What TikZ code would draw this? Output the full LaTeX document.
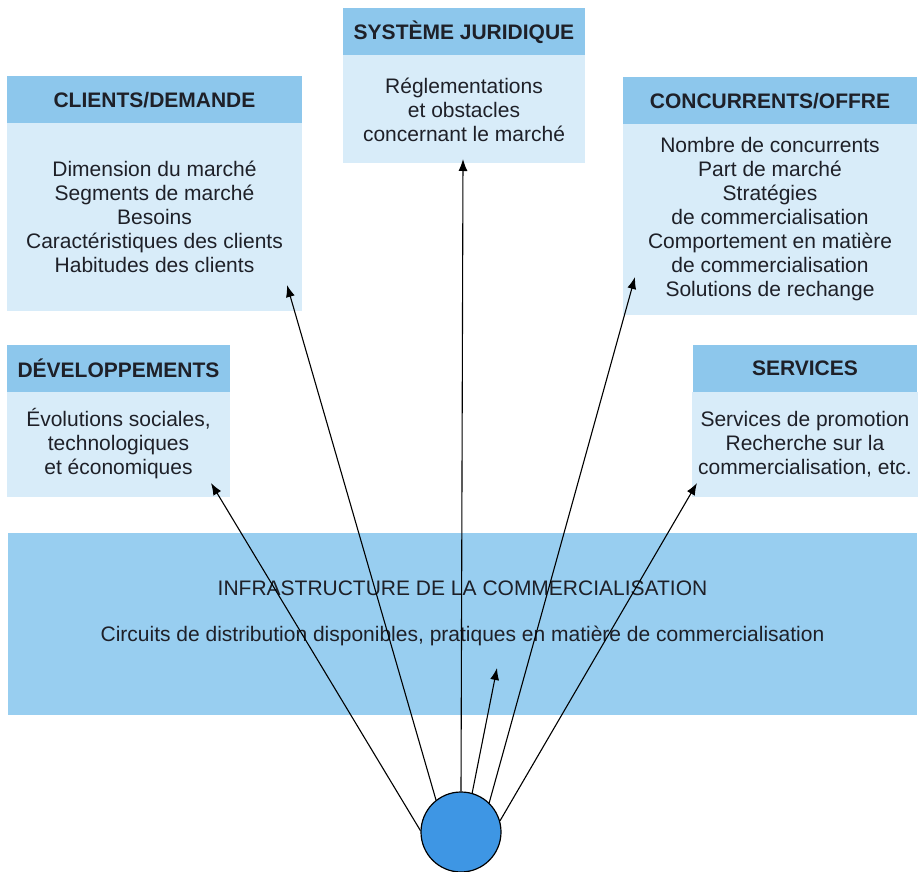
\documentclass[tikz,border=0pt]{standalone}
\usepackage{fontspec}
\setmainfont{Liberation Sans}
\usetikzlibrary{positioning,arrows.meta}

\definecolor{headBlue}{RGB}{141,199,236}
\definecolor{bodyBlue}{RGB}{216,236,249}
\definecolor{infraBlue}{RGB}{152,206,240}
\definecolor{discBlue}{RGB}{62,150,228}
\definecolor{inkDark}{RGB}{30,32,40}

\begin{document}
\begin{tikzpicture}[->, >={Latex[length=6pt,width=4.5pt]}, x=0.5pt, y=-0.5pt,
    headbox/.style={fill=headBlue, text=inkDark, font=\fontsize{10.5}{12}\selectfont\bfseries, minimum height=23.5pt, outer sep=0pt},
    bodybox/.style={fill=bodyBlue, text=inkDark, font=\fontsize{10.5}{12}\selectfont, align=center, outer sep=0pt}]
                \useasboundingbox (0,0) rectangle (922,872);
                \node[headbox, minimum width=121pt] (juridique) at (464,32) {SYSTÈME JURIDIQUE};
                \node[bodybox, minimum width=121pt, minimum height=54pt] (juridiqueTxt) [below=0pt of juridique] {Réglementations\\et obstacles\\concernant le marché};
                \node[headbox, minimum width=147.5pt] (clients) at (154.5,100) {CLIENTS/DEMANDE};
                \node[bodybox, minimum width=147.5pt, minimum height=93.5pt] (clientsTxt) [below=0pt of clients] {Dimension du marché\\Segments de marché\\Besoins\\Caractéristiques des clients\\Habitudes des clients};
                \node[headbox, minimum width=147pt] (concurrents) at (770,101) {CONCURRENTS/OFFRE};
                \node[bodybox, minimum width=147pt, minimum height=95pt] (concurrentsTxt) [below=0pt of concurrents] {Nombre de concurrents\\Part de marché\\Stratégies\\de commercialisation\\Comportement en matière\\de commercialisation\\Solutions de rechange};
                \node[headbox, minimum width=111.5pt] (dev) at (118.5,368) {DÉVELOPPEMENTS};
                \node[bodybox, minimum width=111.5pt, minimum height=52.5pt] (devTxt) [below=0pt of dev] {Évolutions sociales,\\technologiques\\et économiques};
                \node[headbox, minimum width=112pt] (services) at (805,368.5) {SERVICES};
                \node[bodybox, minimum width=112pt, minimum height=52.5pt] (servicesTxt) [below=0pt of services] {Services de promotion\\Recherche sur la\\commercialisation, etc.};
                \node[fill=infraBlue, minimum width=454.5pt, minimum height=91pt, outer sep=0pt] (infra) at (462.5,624) {};
                \node[text=inkDark, font=\fontsize{10.5}{12}\selectfont, align=center] (infraTxt) at ([yshift=5.5pt]infra.center) {INFRASTRUCTURE DE LA COMMERCIALISATION\\[11pt]Circuits de distribution disponibles, pratiques en matière de commercialisation};
                \node[circle, draw, line width=0.6pt, fill=discBlue, minimum size=40pt, inner sep=0pt] (disc) at (461,832) {};
                \coordinate (devTip) at (211,483);
                \coordinate (clientsTip) at (287,285);
                \coordinate (juridiqueTip) at (463,159);
                \coordinate (infraTip) at (497,668);
                \coordinate (concurrentsTip) at (635,277);
                \coordinate (servicesTip) at (697,483);
                \path[line width=0.55pt]
                    (disc.178) edge (devTip)
                    (disc.128) edge (clientsTip)
                    (disc.90) edge (juridiqueTip)
                    (disc.74) edge (infraTip)
                    (disc.46) edge (concurrentsTip)
                    (disc.16) edge (servicesTip);
\end{tikzpicture}
\end{document}
